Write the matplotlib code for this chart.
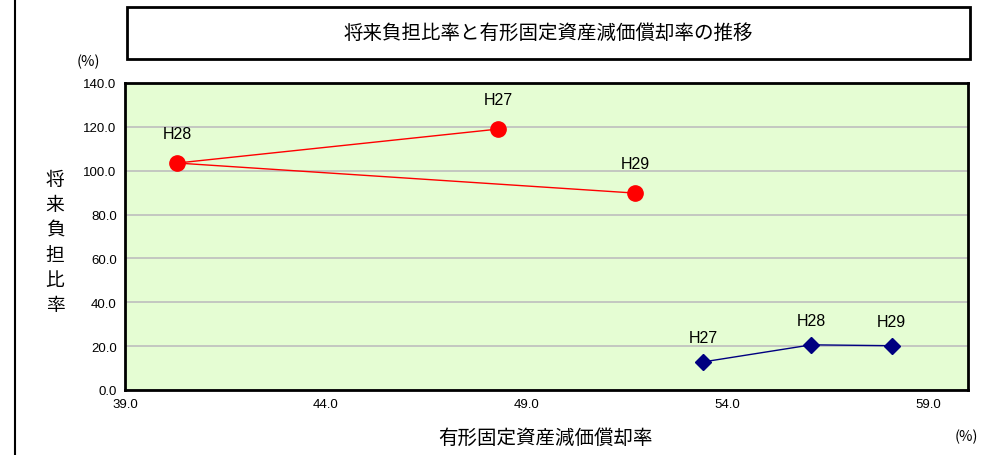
import numpy as np
import matplotlib.pyplot as plt
from matplotlib.patches import Rectangle
from matplotlib.lines import Line2D

plt.rcParams['font.family'] = ['Noto Sans CJK JP', 'DejaVu Sans']

# 将来負担比率 (赤) と 有形固定資産減価償却率
years = ["H27", "H28", "H29"]
red_x = [48.3, 40.3, 51.7]
red_y = [119.0, 103.5, 89.8]
blue_x = [53.4, 56.1, 58.1]
blue_y = [12.8, 20.6, 20.2]

x_ticks = [39.0, 44.0, 49.0, 54.0, 59.0]
y_ticks = [0.0, 20.0, 40.0, 60.0, 80.0, 100.0, 120.0, 140.0]

fig = plt.figure(figsize=(9.83, 4.56), dpi=100)
ax = fig.add_axes([125/983, 1-391/456, 843/983, 307/456])
ax.set_facecolor('#E5FDD3')

ax.plot(red_x, red_y, color='red', lw=1, marker='o', ms=11, zorder=3)
ax.plot(blue_x, blue_y, color='#000080', lw=1, marker='D', ms=8, zorder=3)

lab_font = ['Liberation Sans', 'DejaVu Sans']
for x, y, t in zip(red_x, red_y, years):
    ax.annotate(t, (x, y), xytext=(0, 16), textcoords='offset points',
                ha='center', va='bottom', fontsize=11.5, family=lab_font)
for x, y, t in zip(blue_x, blue_y, years):
    ax.annotate(t, (x, y), xytext=(0, 12), textcoords='offset points',
                ha='center', va='bottom', fontsize=11.5, family=lab_font)

ax.set_xlim(39, 60)
ax.set_ylim(0, 140)
ax.set_xticks(x_ticks)
ax.set_yticks(y_ticks)
ax.set_xticklabels(['%.1f' % v for v in x_ticks], family=lab_font, fontsize=9.5)
ax.set_yticklabels(['%.1f' % v for v in y_ticks], family=lab_font, fontsize=9.5)
ax.tick_params(length=0, pad=6)
ax.grid(axis='y', color='#BEBEBE', lw=1.2)
ax.set_axisbelow(True)
for s in ax.spines.values():
    s.set_linewidth(2)
    s.set_color('black')

# タイトル枠
fig.patches.append(Rectangle((127/983, 1-60/456), 843/983, 52/456, transform=fig.transFigure,
                             fill=False, ec='black', lw=2))
fig.text(548/983, 1-33/456, '将来負担比率と有形固定資産減価償却率の推移', ha='center', va='center', fontsize=14)

# 左の縦線
fig.add_artist(Line2D([15/983, 15/983], [0, 1], color='black', lw=1.5, transform=fig.transFigure))

fig.text(88/983, 1-62/456, '(%)', ha='center', va='center', fontsize=10.5)
fig.text(978/983, 1-437/456, '(%)', ha='right', va='center', fontsize=10.5)
fig.text(545/983, 1-438/456, '有形固定資産減価償却率', ha='center', va='center', fontsize=14)
fig.text(55/983, 1-243/456, '\n'.join('将来負担比率'), ha='center', va='center', fontsize=13.5, linespacing=1.25)

fig.savefig('out.png', dpi=100)
